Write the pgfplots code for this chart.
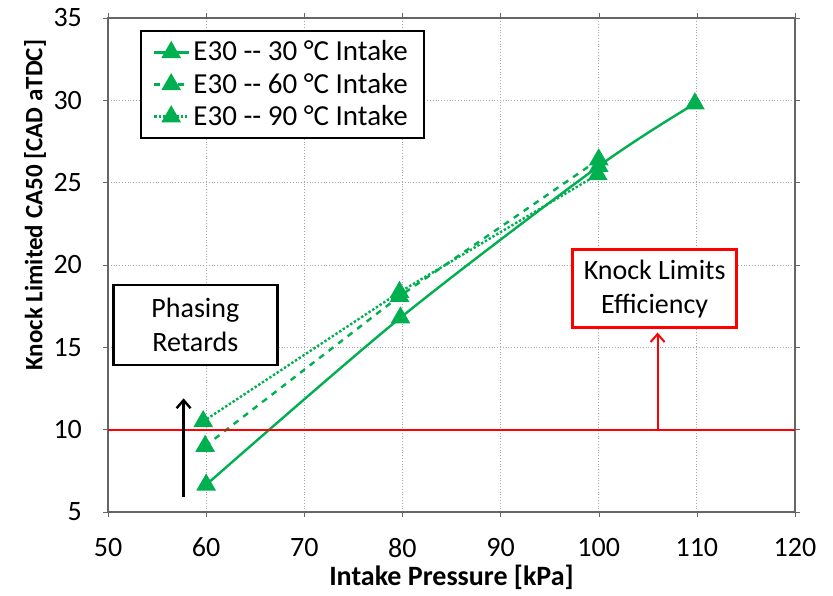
\documentclass[border=0pt]{standalone}
\usepackage{pgfplots}
\pgfplotsset{compat=1.18}
\usepackage{fontspec}
\setmainfont{Carlito}
\usetikzlibrary{arrows.meta}
\definecolor{exgreen}{RGB}{0,176,80}
\begin{document}
\begin{tikzpicture}
\begin{axis}[
  scale only axis,
  width=343.5pt, height=247pt,
  xmin=50, xmax=120, ymin=5, ymax=35,
  xtick={50,60,...,120}, ytick={5,10,...,35},
  /pgf/number format/assume math mode=true,
  ticklabel style={font=\fontsize{14}{16}\selectfont},
  xticklabel style={yshift=-7pt},
  yticklabel style={xshift=-7pt},
  grid=major,
  major grid style={gray!70, densely dotted, line width=0.5pt},
  axis line style={gray!80!black, line width=0.6pt},
  tick align=outside, major tick length=2.5pt,
  tick style={gray!80!black},
  xlabel={\textbf{Intake Pressure [kPa]}},
  ylabel={\textbf{Knock Limited CA50 [CAD aTDC]}},
  xlabel style={font=\fontsize{14}{16}\selectfont, at={(axis description cs:0.5,0)}, anchor=center, yshift=-32.5pt},
  ylabel style={font=\fontsize{12.5}{15}\selectfont, at={(axis description cs:0,0.621)}, anchor=center, yshift=36.5pt},
  legend style={at={(0.0466,0.976)}, anchor=north west, draw=black, line width=0.9pt,
    font=\fontsize{14.5}{18}\selectfont, row sep=0.5pt, inner xsep=6pt, inner ysep=3pt},
  legend cell align=left,
]
\addplot[exgreen, line width=1.2pt, smooth, mark=triangle*, mark size=4.5pt, mark options={solid, fill=exgreen}]
  coordinates {(60,6.65) (79.8,16.8) (100,26.0) (109.8,29.8)};
\addlegendentry{E30 -{}- 30 °C Intake}
\addplot[exgreen, line width=1.2pt, dashed, mark=triangle*, mark size=4.5pt, mark options={solid, fill=exgreen}]
  coordinates {(59.9,9.0) (79.7,18.1) (100,26.4)};
\addlegendentry{E30 -{}- 60 °C Intake}
\addplot[exgreen, line width=1.2pt, densely dotted, mark=triangle*, mark size=4.5pt, mark options={solid, fill=exgreen}]
  coordinates {(59.7,10.5) (79.7,18.35) (99.9,25.5)};
\addlegendentry{E30 -{}- 90 °C Intake}
\addplot[red, line width=1pt, forget plot] coordinates {(50,10) (120,10)};
\addplot[red, line width=1pt, forget plot, -{Straight Barb[length=4pt,width=7pt]}] coordinates {(106,10) (106,15.9)};
\addplot[black, line width=1.2pt, forget plot, -{Straight Barb[length=4pt,width=7pt]}] coordinates {(57.7,5.9) (57.7,11.9)};
\node[draw=red, line width=1.4pt, fill=white, align=center, font=\fontsize{14}{17}\selectfont,
  minimum width=82pt, minimum height=39pt, inner sep=2pt] at (axis cs:105.7,18.55) {Knock Limits\\Efficiency};
\node[draw=black, line width=1.2pt, fill=white, align=center, font=\fontsize{14}{17}\selectfont,
  minimum width=82pt, minimum height=40pt, inner sep=2pt] at (axis cs:58.9,16.36) {Phasing\\Retards};
\end{axis}
\path ([shift={(-54pt,-39pt)}]current axis.south west) rectangle ([shift={(19pt,9pt)}]current axis.north east);
\end{tikzpicture}
\end{document}
